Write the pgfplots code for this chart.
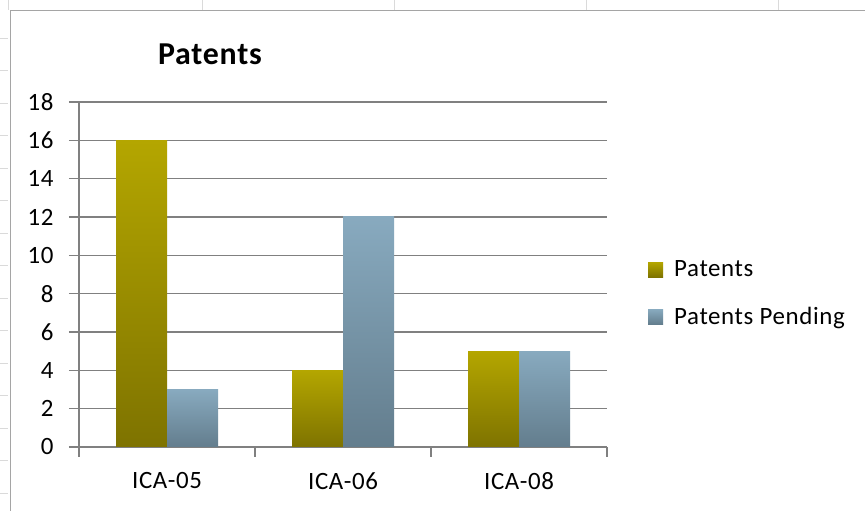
\documentclass[border=0pt]{standalone}
\usepackage{fontspec}
\setmainfont{Carlito}[LetterSpace=2.5]
\usepackage{pgfplots}
\pgfplotsset{compat=1.18}
\definecolor{gridc}{RGB}{128,128,128}
\definecolor{oliveT}{RGB}{180,166,0}
\definecolor{oliveB}{RGB}{126,115,0}
\definecolor{blueT}{RGB}{136,170,191}
\definecolor{blueB}{RGB}{99,125,141}
\definecolor{sheet}{RGB}{218,218,218}
\definecolor{border}{RGB}{165,165,165}
\begin{document}
\begin{tikzpicture}[x=1bp,y=1bp]
\useasboundingbox (0,0) rectangle (865,511);
\fill[white] (0,0) rectangle (865,511);
\foreach \x in {8,202,394,586,778} \draw[sheet, line width=1bp] (\x,511) -- (\x,501);
\foreach \k in {0,...,14} \draw[sheet, line width=1bp] (0,{511-38.3-32.5*\k}) -- (8,{511-38.3-32.5*\k});
\draw[border, line width=1.5bp] (10.5,-5) -- (10.5,500.5) -- (870,500.5);
\begin{axis}[
  at={(79bp,64bp)}, anchor=south west,
  width=528bp, height=345bp, scale only axis,
  xmin=-0.5, xmax=2.5, ymin=0, ymax=18,
  ytick={0,2,...,18},
  xtick={-0.5,0.5,1.5,2.5}, xticklabels={},
  extra x ticks={0,1,2}, extra x tick labels={ICA-05,ICA-06,ICA-08},
  extra x tick style={major tick length=0pt, xticklabel style={yshift=-22bp}},
  axis x line*=bottom, axis y line*=left,
  axis line style={gridc, line width=1.1bp, -},
  tick align=outside, major tick length=10bp,
  tick style={gridc, line width=1.1bp},
  ymajorgrids, grid style={gridc, line width=1.1bp},
  ticklabel style={font=\fontsize{25}{30}\selectfont},
  yticklabel style={xshift=-12bp},
  /pgf/number format/assume math mode=true,
  title={Patents},
  title style={at={(0.248,1.122)}, anchor=center, font=\bfseries\fontsize{32}{38}\selectfont},
  legend image code/.code={\fill[#1] (0bp,-7.5bp) rectangle (15bp,7.5bp); \path (0bp,0bp) -- (24bp,0bp);},
  legend style={at={(1.0777,0.445)}, anchor=west, draw=none, fill=none,
    font=\fontsize{25}{30}\selectfont, row sep=25bp, inner sep=0pt},
  legend cell align=left,
  bar width=51bp,
]
\addplot[ybar, bar shift=-25.5bp, draw=none, top color=oliveT, bottom color=oliveB] coordinates {(0,16)};
\addplot[ybar, bar shift=25.5bp, draw=none, top color=blueT, bottom color=blueB] coordinates {(0,3)};
\addplot[ybar, bar shift=-25.5bp, draw=none, top color=oliveT, bottom color=oliveB, forget plot] coordinates {(1,4)};
\addplot[ybar, bar shift=-25.5bp, draw=none, top color=oliveT, bottom color=oliveB, forget plot] coordinates {(2,5)};
\addplot[ybar, bar shift=25.5bp, draw=none, top color=blueT, bottom color=blueB, forget plot] coordinates {(1,12)};
\addplot[ybar, bar shift=25.5bp, draw=none, top color=blueT, bottom color=blueB, forget plot] coordinates {(2,5)};
\legend{Patents,Patents Pending}
\end{axis}
\end{tikzpicture}
\end{document}
